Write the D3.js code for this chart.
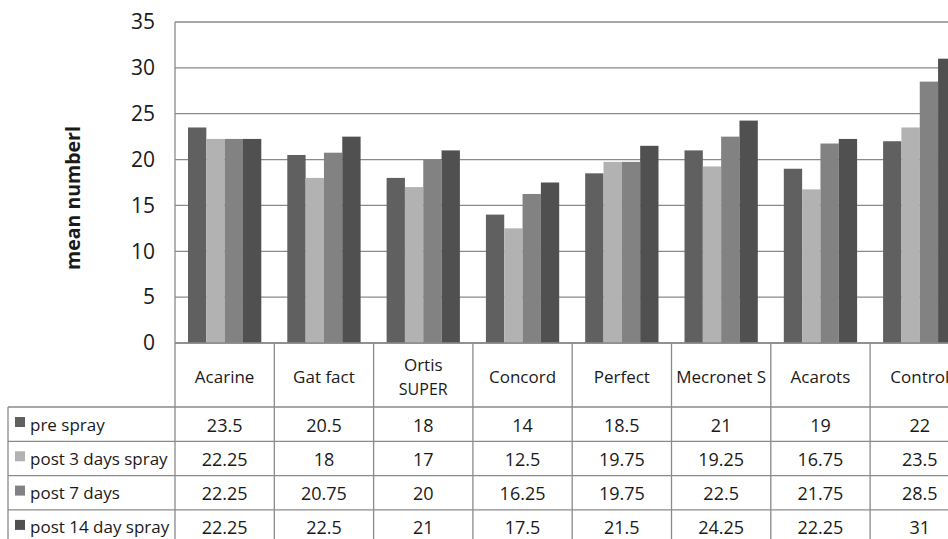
<!DOCTYPE html>
<html><head><meta charset="utf-8">
<script src="https://cdn.jsdelivr.net/npm/d3@7"></script>
<style>body{margin:0;background:#fff}svg{display:block}text{font-family:"Open Sans",sans-serif;fill:#1a1a1a}</style>
</head><body><svg id="c" width="948" height="539"></svg>
<script>
const categories = ["Acarine","Gat fact","Ortis SUPER","Concord","Perfect","Mecronet S","Acarots","Control"];
const seriesNames = ["pre spray","post 3 days spray","post 7 days","post 14 day spray"];
const preSpray   = [23.5, 20.5, 18, 14, 18.5, 21, 19, 22];
const post3Days  = [22.25, 18, 17, 12.5, 19.75, 19.25, 16.75, 23.5];
const post7Days  = [22.25, 20.75, 20, 16.25, 19.75, 22.5, 21.75, 28.5];
const post14Days = [22.25, 22.5, 21, 17.5, 21.5, 24.25, 22.25, 31];
const seriesValues = [preSpray, post3Days, post7Days, post14Days];
const yTicks = [0,5,10,15,20,25,30,35];
const colors = ["#606060","#b2b2b2","#828282","#505050"];

const svg = d3.select("#c");
const L = 175, T = 22, B = 343, catW = 99.3;
const R = L + catW*categories.length;
const x0 = d3.scaleBand().domain(categories).range([L, R]).paddingInner(0).paddingOuter(0);
const x1 = d3.scaleBand().domain(seriesNames).range([13, catW-13]).padding(0);
const y = d3.scaleLinear().domain([0,35]).range([B, T]);
const gridC = "#8a8a8a";

// gridlines
svg.append("g").selectAll("line").data(yTicks).join("line")
  .attr("x1", L).attr("x2", R).attr("y1", d=>y(d)).attr("y2", d=>y(d))
  .attr("stroke", gridC).attr("stroke-width", 1.3);
// left axis line
svg.append("line").attr("x1", L).attr("x2", L).attr("y1", T).attr("y2", B)
  .attr("stroke", gridC).attr("stroke-width", 1.3);

// bars
const g = svg.append("g");
categories.forEach((c, ci) => {
  seriesNames.forEach((s, si) => {
    const v = seriesValues[si][ci];
    g.append("rect").attr("x", x0(c)+x1(s)).attr("width", x1.bandwidth())
      .attr("y", y(v)).attr("height", y(0)-y(v)).attr("fill", colors[si]);
  });
});

// y axis labels
const yAxis = d3.axisLeft(y).tickValues(yTicks).tickSize(0).tickPadding(0);
const ya = svg.append("g").attr("transform", `translate(${L-20},0)`).call(yAxis);
ya.select(".domain").remove();
ya.selectAll("text").attr("font-size", 21).attr("font-family", '"Open Sans",sans-serif').attr("fill", "#1a1a1a");

// y title
svg.append("text").attr("transform", `translate(80,198) rotate(-90)`)
  .attr("text-anchor", "middle").attr("font-size", 19.5).attr("font-weight", "bold").text("mean numberl");

// table
const hdrBot = 407, rowH = 34.3, tabL = 8;
const lineAttr = sel => sel.attr("stroke", gridC).attr("stroke-width", 1.3);
categories.concat(["_end"]).forEach((c, i) => {
  const xx = L + i*catW;
  lineAttr(svg.append("line").attr("x1", xx).attr("x2", xx).attr("y1", B).attr("y2", hdrBot + rowH*4 + 2));
});
lineAttr(svg.append("line").attr("x1", L).attr("x2", R).attr("y1", B).attr("y2", B));
lineAttr(svg.append("line").attr("x1", tabL).attr("x2", tabL).attr("y1", hdrBot).attr("y2", hdrBot + rowH*4 + 2));
for (let r = 0; r <= 4; r++) {
  const yy = hdrBot + r*rowH;
  lineAttr(svg.append("line").attr("x1", tabL).attr("x2", R).attr("y1", yy).attr("y2", yy));
}
// header labels
categories.forEach(c => {
  const cx = x0(c) + catW/2;
  const parts = c === "Ortis SUPER" ? ["Ortis","SUPER"] : [c];
  const t = svg.append("text").attr("text-anchor", "middle").attr("font-size", 17);
  if (parts.length === 1) {
    t.attr("x", cx).attr("y", 383).text(c);
  } else {
    t.append("tspan").attr("x", cx).attr("y", 371).text(parts[0]);
    t.append("tspan").attr("x", cx).attr("y", 395).attr("font-size", 16).text(parts[1]);
  }
});
// rows
seriesNames.forEach((s, si) => {
  const top = hdrBot + si*rowH;
  svg.append("rect").attr("x", 15).attr("y", top+10).attr("width", 10).attr("height", 10).attr("fill", colors[si]);
  svg.append("text").attr("x", 30).attr("y", top+23.5).attr("font-size", 17).text(s);
  categories.forEach((c, ci) => {
    svg.append("text").attr("x", x0(c)+catW/2).attr("y", top+24.5).attr("text-anchor", "middle")
      .attr("font-size", 18).text(seriesValues[si][ci]);
  });
});
</script></body></html>
